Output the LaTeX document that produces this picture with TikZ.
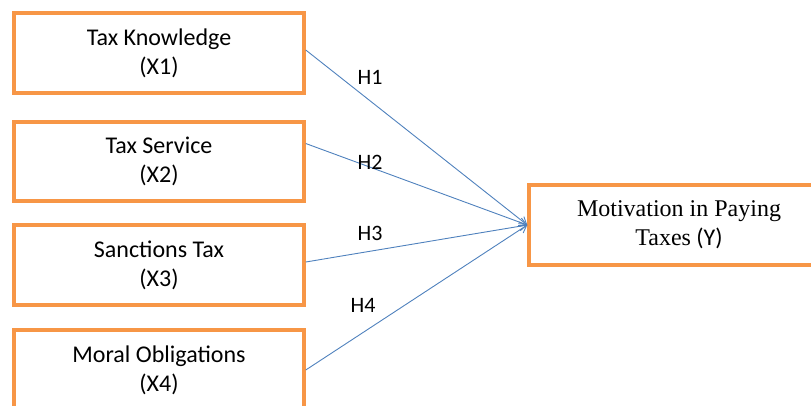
\documentclass[tikz,border=0pt]{standalone}
\usepackage{fontspec}
\setmainfont{Carlito}
\newfontfamily\timesface{Liberation Serif}
\usetikzlibrary{arrows.meta,positioning}
\definecolor{boxorange}{HTML}{F79646}
\definecolor{pathblue}{HTML}{4F81BD}

\begin{document}
\begin{tikzpicture}[x=1pt,y=-1pt,font=\fontsize{24}{29}\selectfont,
 item/.style={draw=boxorange,line width=3.5pt,fill=white,align=center,
  minimum width=290pt,minimum height=80pt,inner sep=0pt},
 target/.style={item,minimum width=300pt},
 flow/.style={-{Straight Barb[length=7pt,width=9pt]},pathblue,line width=0.9pt},
 hyp/.style={inner sep=0pt,font=\fontsize{22}{26}\selectfont}]
\useasboundingbox (0,0) rectangle (811,405);

\node[item] (know) at (159,53) {Tax Knowledge\\(X1)};
\node[item,minimum height=79pt] (serv) at (159,161.5) {Tax Service\\(X2)};
\node[item] (sanc) at (159,265) {Sanctions Tax\\(X3)};
\node[item] (moral) at (159,370) {Moral Obligations\\(X4)};
\node[target] (motiv) at (679,225) {{\timesface Motivation in Paying}\\{\timesface Taxes} (Y)};

\draw[flow] ([yshift=3pt]know.east) -- (motiv.west);
\draw[flow] ([yshift=18pt]serv.east) -- (motiv.west);
\draw[flow] ([yshift=3pt]sanc.east) -- (motiv.west);
\draw[flow] (moral.east) -- (motiv.west);

\node[hyp] (h1) at (370,77) {H1};
\node[hyp] (h2) at (370,162) {H2};
\node[hyp] (h3) at (370,233) {H3};
\node[hyp] (h4) at (363,305) {H4};
\end{tikzpicture}
\end{document}
